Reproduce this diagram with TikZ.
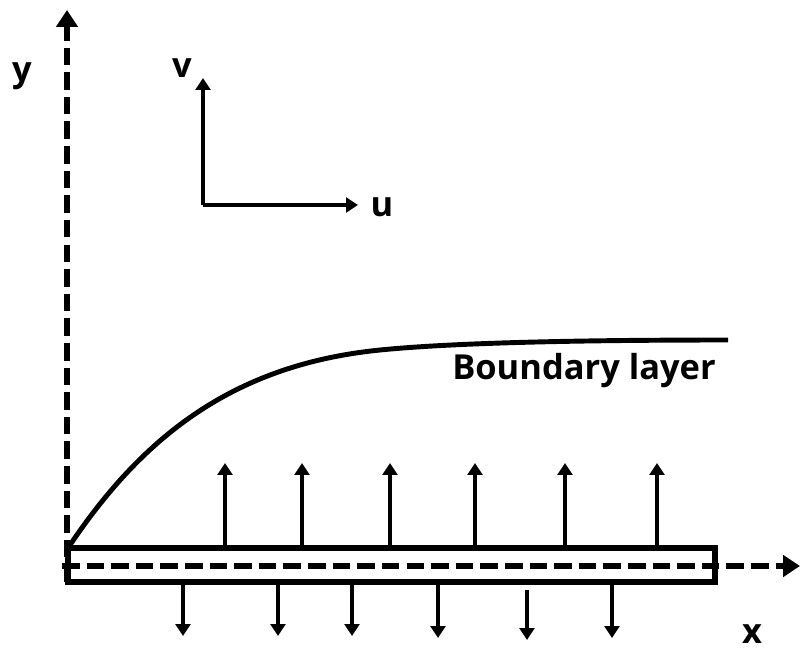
\documentclass[tikz,border=0pt]{standalone}
\usepackage{fontspec}
\setmainfont{Open Sans}
\usetikzlibrary{arrows.meta}

\begin{document}
\begin{tikzpicture}[
    x=0.025cm, y=-0.025cm,
    axis/.style={line width=4pt, dash pattern=on 12.5pt off 5pt, -{Triangle[length=12pt,width=15pt]}},
    arrow/.style={line width=2.7pt, -{Triangle[length=8.5pt,width=10.5pt]}},
    lbl/.style={font=\fontsize{24.5}{28}\selectfont\bfseries}
]
\useasboundingbox (0,0) rectangle (800,650);

% Plate
\draw[line width=4pt] (68,548) rectangle (715,582);

% Axes
\coordinate (origin) at (67,582);
\coordinate (ytip) at (67,10);
\coordinate (xstart) at (62,566);
\coordinate (xtip) at (800,566);
\draw[axis] (origin) -- (ytip);
\draw[axis] (xstart) -- (xtip);
\node[lbl] (ylabel) at (22,76) {y};
\node[lbl] (xlabel) at (752,634) {x};

% Velocity components
\coordinate (corner) at (203,205);
\coordinate (vtip) at (203,78);
\coordinate (utip) at (358,205);
\draw[arrow, line width=2.2pt] (corner) -- (vtip);
\draw[arrow, line width=2.2pt] (corner) -- (utip);
\node[lbl] (vlabel) at (182,68) {v};
\node[lbl] (ulabel) at (382,207) {u};

% Boundary layer
\draw[line width=3.5pt] (68,548) .. controls (140,440) and (230,365) .. (380,350)
    .. controls (460,342) and (600,340) .. (728,340);
\node[lbl] (bl) at (584,371) {Boundary layer};

% Suction / injection
\draw[arrow] (225,546) -- (225,463);
\draw[arrow] (302,546) -- (302,463);
\draw[arrow] (390,546) -- (390,463);
\draw[arrow] (475,546) -- (475,463);
\draw[arrow] (565,546) -- (565,463);
\draw[arrow] (657,546) -- (657,463);

\draw[arrow] (183,584) -- (183,636);
\draw[arrow] (278,584) -- (278,636);
\draw[arrow] (352,584) -- (352,636);
\draw[arrow] (438,584) -- (438,638);
\draw[arrow] (527,590) -- (527,640);
\draw[arrow] (612,584) -- (612,638);

\end{tikzpicture}
\end{document}
